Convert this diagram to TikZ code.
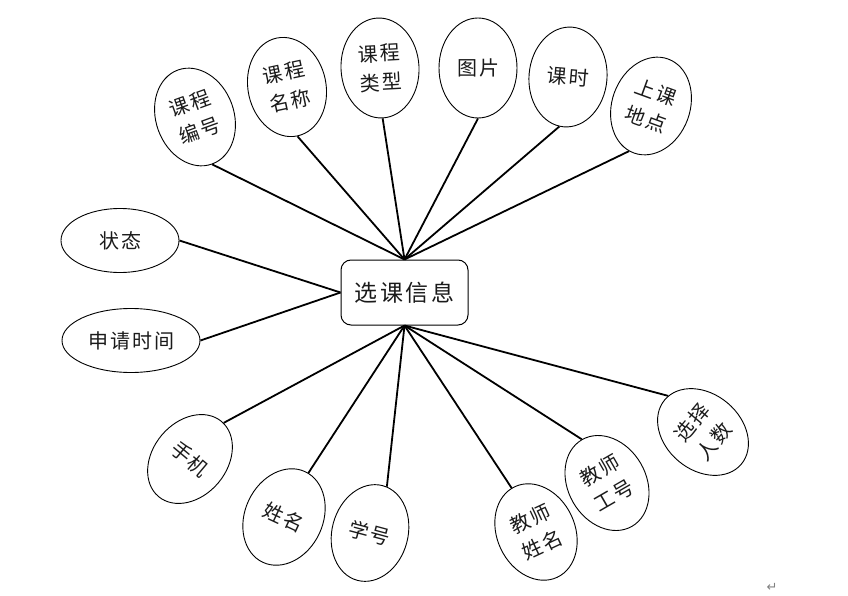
\documentclass[tikz,border=0pt]{standalone}
\usepackage{fontspec}
\newfontfamily\cjk[LetterSpace=10]{Noto Sans CJK SC}
\newfontfamily\cjkc[LetterSpace=12]{Noto Sans CJK SC}
\newfontfamily\symfont{DejaVu Sans}
\usetikzlibrary{shapes.geometric}
\definecolor{ink}{HTML}{1A1A1A}
\tikzset{
  attr/.style={ellipse, draw=black, line width=0.9pt, minimum width=78pt, minimum height=100pt,
    inner sep=0pt, align=center, text=ink, font=\cjk\fontsize{20}{29}\selectfont},
  wide/.style={attr, minimum width=118pt, minimum height=64pt},
  entity/.style={draw=black, line width=1pt, rounded corners=10pt, minimum width=127pt,
    minimum height=65pt, inner sep=0pt, text=ink, font=\cjkc\fontsize{23}{28}\selectfont},
  link/.style={line width=1.8pt, black}
}
\begin{document}
\begin{tikzpicture}[x=1pt, y=-1pt]
\useasboundingbox (0,0) rectangle (848,596);
\node[entity] (c) at (404.5,292.5) {选课信息};
% top
\node[attr, rotate=20] (a1) at (195,117) {课程\\编号};
\node[attr, rotate=12] (a2) at (287,87) {课程\\名称};
\node[attr, rotate=3] (a3) at (380,68) {课程\\类型};
\node[attr] (a4) at (478,68) {图片};
\node[attr, rotate=-5] (a5) at (568,77) {课时};
\node[attr, rotate=-20] (a6) at (651,106) {上课\\地点};
% left
\node[wide] (b1) at (120,240.5) {状态};
\node[wide, minimum width=138pt] (b2) at (131,340.5) {申请时间};
% bottom
\node[attr, minimum width=74pt, minimum height=98pt, rotate=-40] (d1) at (190,459) {手机};
\node[attr, rotate=-25] (d2) at (284,517) {姓名};
\node[attr, minimum width=76pt, minimum height=98pt, rotate=-15] (d3) at (370,533) {学号};
\node[attr, rotate=25] (d4) at (536,532) {教师\\姓名};
\node[attr, rotate=30] (d5) at (607,483) {教师\\工号};
\node[attr, minimum width=76pt, rotate=50] (d6) at (703,432) {选择\\人数};
% paragraph mark
\node[text=gray, font=\symfont\fontsize{13}{13}\selectfont] (pm) at (772,587) {↵};
% connectors
\draw[link] (c.north) -- (a1.-90);
\draw[link] (c.north) -- (a2.-90);
\draw[link] (c.north) -- (a3.-90);
\draw[link] (c.north) -- (a4.-90);
\draw[link] (c.north) -- (a5.-95);
\draw[link] (c.north) -- (a6.-96);
\draw[link] (c.west) -- (b1.east);
\draw[link] (c.west) -- (b2.east);
\draw[link] (c.south) -- (d1.87);
\draw[link] (c.south) -- (d2.86);
\draw[link] (c.south) -- (d3.85);
\draw[link] (c.south) -- (d4.94);
\draw[link] (c.south) -- (d5.90);
\draw[link] (c.south) -- (d6.84);
\end{tikzpicture}
\end{document}
